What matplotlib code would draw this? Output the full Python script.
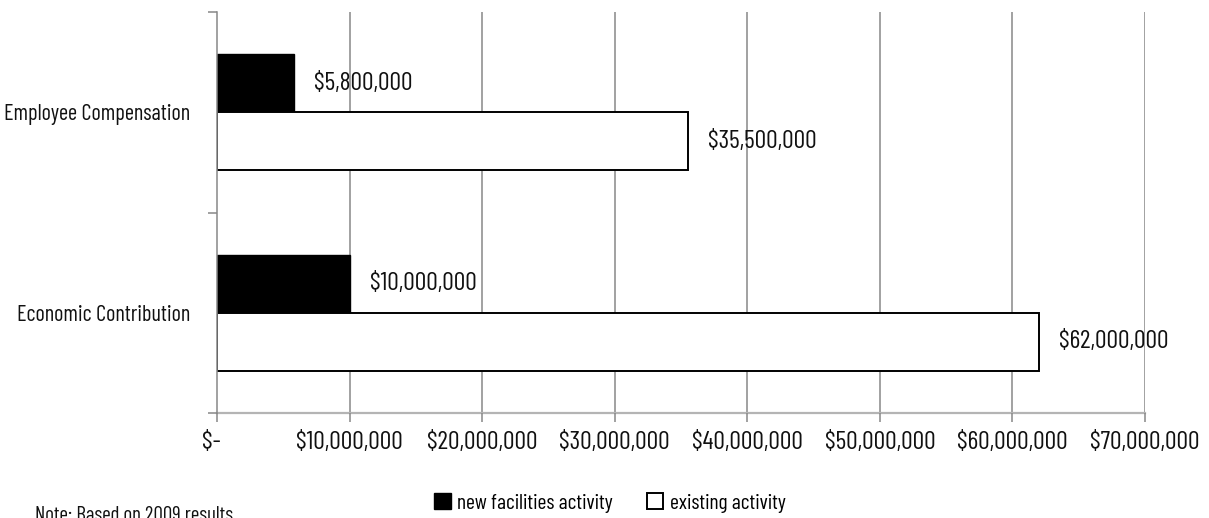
import matplotlib
matplotlib.use("Agg")
import matplotlib.pyplot as plt
from matplotlib.patches import Patch
from matplotlib.ticker import FixedLocator
import matplotlib.transforms as mtransforms

# ---- data -------------------------------------------------------------
categories = ["Economic Contribution", "Employee Compensation"]
new_facilities = [10_000_000, 5_800_000]
existing = [62_000_000, 35_500_000]
series_names = ["new facilities activity", "existing activity"]
x_ticks = [0, 10_000_000, 20_000_000, 30_000_000, 40_000_000,
           50_000_000, 60_000_000, 70_000_000]
x_tick_labels = ["$-", "$10,000,000", "$20,000,000", "$30,000,000",
                 "$40,000,000", "$50,000,000", "$60,000,000", "$70,000,000"]
note_text = "Note: Based on 2009 results"

# ---- font -------------------------------------------------------------
plt.rcParams["font.family"] = ["Barlow Condensed", "DejaVu Sans"]
VAL_FS = 18.5   # value labels and x tick labels
CAT_FS = 16     # category labels
LEG_FS = 15.5   # legend entries
NOTE_FS = 15
TXT = "#111111"

fmt_money = lambda v: "${:,.0f}".format(v)

W, H, DPI = 1209, 518, 100
fig = plt.figure(figsize=(W / DPI, H / DPI), dpi=DPI)
ax = fig.add_axes([217 / W, 1 - 413 / H, 928 / W, 401 / H])

grid_c = "#878787"
bar_h = 0.29
ypos = list(range(len(categories)))

# gridlines behind bars
for xv in x_ticks[1:]:
    ax.axvline(xv, color=grid_c, lw=1.1, zorder=0)

black_bars = ax.barh([y + bar_h / 2 for y in ypos], new_facilities, height=bar_h,
                     color="black", edgecolor="black", lw=1.0, zorder=2)
white_bars = ax.barh([y - bar_h / 2 for y in ypos], existing, height=bar_h,
                     color="white", edgecolor="black", lw=1.4, zorder=2)

for bars, vals in ((black_bars, new_facilities), (white_bars, existing)):
    for rect, v in zip(bars, vals):
        ax.annotate(fmt_money(v), xy=(v, rect.get_y() + rect.get_height() / 2),
                    xytext=(14.5, 0), textcoords="offset points",
                    ha="left", va="center", fontsize=VAL_FS, color=TXT, zorder=3)

ax.set_xlim(0, 70_000_000)
ax.set_ylim(-0.5, 1.5)

ax.set_xticks(x_ticks)
ax.set_xticklabels(x_tick_labels, fontsize=VAL_FS)
ax.tick_params(axis="x", length=6.5, width=1.1, color=grid_c, pad=6.5,
               labelcolor=TXT)
# accounting-style zero label sits slightly left of its tick
zero_lbl = ax.get_xticklabels()[0]
zero_lbl.set_transform(zero_lbl.get_transform() +
                       mtransforms.ScaledTranslation(-6 / DPI, 0, fig.dpi_scale_trans))

ax.set_yticks(ypos)
ax.set_yticklabels(categories, fontsize=CAT_FS)
ax.tick_params(axis="y", which="major", length=0, pad=19, labelcolor=TXT)
ax.yaxis.set_minor_locator(FixedLocator([-0.5, 0.5, 1.5]))
ax.tick_params(axis="y", which="minor", length=6.5, width=1.1, color=grid_c)

for side in ("top", "right"):
    ax.spines[side].set_visible(False)
ax.spines["left"].set_color(grid_c)
ax.spines["left"].set_linewidth(1.1)
ax.spines["bottom"].set_color("#b4b4b4")
ax.spines["bottom"].set_linewidth(1.6)
ax.spines["bottom"].set_zorder(1)
ax.spines["left"].set_zorder(4)

# legend below the axis
handles = [Patch(facecolor="black", edgecolor="black", lw=1.0),
           Patch(facecolor="white", edgecolor="black", lw=1.4)]
fig.legend(handles, series_names, loc="center", ncol=2,
           bbox_to_anchor=(610 / W, 1 - 503 / H), frameon=False, fontsize=LEG_FS,
           handlelength=0.75, handleheight=0.75, handletextpad=0.3,
           columnspacing=1.6, borderpad=0)

# footnote, running off the lower edge
fig.text(35 / W, 1 - 521 / H, note_text, ha="left", va="baseline",
         fontsize=NOTE_FS, color=TXT)

fig.savefig("out.png", dpi=DPI, facecolor="white")
